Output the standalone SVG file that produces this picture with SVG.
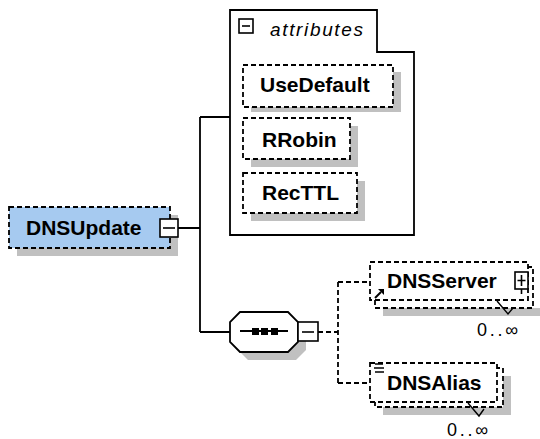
<svg xmlns="http://www.w3.org/2000/svg" width="540" height="439" viewBox="0 0 540 439">
<style>
.shadow{fill:#c0c0c0;stroke:none}
.solid{fill:none;stroke:#000;stroke-width:1.8}
.dash{fill:none;stroke:#000;stroke-width:1.8;stroke-dasharray:5 3}
.box{fill:#fff;stroke:#000;stroke-width:1.8;stroke-dasharray:5 3}
.icon{fill:#fff;stroke:#000;stroke-width:1.6}
.name{font-family:"Liberation Sans",Arial,sans-serif;font-weight:bold;font-size:21px;fill:#000}
.card{font-family:"Liberation Sans",Arial,sans-serif;font-size:18px;fill:#000}
</style>
<rect width="540" height="439" fill="#fff"/>
<g id="connectors">
<path class="solid" d="M178,228 H200 M200,117 V332 M200,117 H230 M200,332 H230"/>
<path class="dash" d="M318,332 H338 M338,282 V383 M338,282 H370 M338,383 H370"/>
</g>
<g id="DNSUpdate">
<rect class="shadow" x="17" y="215" width="161" height="41"/>
<rect x="9" y="207" width="161" height="41" fill="#a6caf0" stroke="#000" stroke-width="1.8" stroke-dasharray="5 3"/>
<text class="name" x="26" y="235">DNSUpdate</text>
<rect class="icon" x="160" y="219" width="18" height="18"/>
<line x1="163" y1="228" x2="175" y2="228" stroke="#000" stroke-width="1.6"/>
</g>
<g id="attributes">
<path d="M230,10 H377 V52 H414 V235 H230 Z" fill="#fff" stroke="#000" stroke-width="1.8"/>
<rect class="icon" x="239" y="19" width="14" height="14"/>
<line x1="242" y1="26" x2="250" y2="26" stroke="#000" stroke-width="1.6"/>
<text x="270" y="36" font-family="'Liberation Sans',Arial,sans-serif" font-style="italic" font-size="19" textLength="93" lengthAdjust="spacing">attributes</text>
</g>
<g id="UseDefault">
<rect class="shadow" x="251" y="72" width="150" height="40"/>
<rect class="box" x="243" y="65" width="150" height="42"/>
<text class="name" x="260" y="92">UseDefault</text>
</g>
<g id="RRobin">
<rect class="shadow" x="251" y="126" width="107" height="41"/>
<rect class="box" x="243" y="118" width="107" height="41"/>
<text class="name" x="262" y="147">RRobin</text>
</g>
<g id="RecTTL">
<rect class="shadow" x="251" y="181" width="114" height="40"/>
<rect class="box" x="243" y="173" width="114" height="40"/>
<text class="name" x="262" y="200">RecTTL</text>
</g>
<g id="sequence">
<polygon class="shadow" points="248,320 296,320 306,330 306,350 296,360 248,360 238,350 238,330"/>
<polygon points="240,312 288,312 298,322 298,342 288,352 240,352 230,342 230,322" fill="#fff" stroke="#000" stroke-width="1.8"/>
<line x1="240" y1="331" x2="288" y2="331" stroke="#000" stroke-width="1.8"/>
<rect x="252" y="328" width="7" height="7" fill="#000"/>
<rect x="261" y="328" width="7" height="7" fill="#000"/>
<rect x="271" y="328" width="7" height="7" fill="#000"/>
<rect class="icon" x="298" y="322" width="20" height="19"/>
<line x1="302" y1="332" x2="314" y2="332" stroke="#000" stroke-width="1.6"/>
</g>
<g id="DNSServer">
<rect class="shadow" x="383" y="308" width="158" height="8"/>
<rect class="box" x="375" y="267" width="158" height="41"/>
<rect class="box" x="370" y="262" width="158" height="38"/>
<text class="name" x="387" y="288">DNSServer</text>
<rect class="icon" x="515" y="272" width="13" height="17"/>
<path d="M517.5,280.5 H525.5 M521.5,275 V286 M521.5,289 V294" stroke="#000" stroke-width="1.6" fill="none"/>
<path d="M375,298 L381,292" stroke="#000" stroke-width="2"/>
<polygon points="384,289 384,295 378,289" fill="#000"/>
<polyline points="497,301 508,314 513,308" fill="none" stroke="#000" stroke-width="1.4"/>
<text class="card" x="477" y="336" textLength="41" lengthAdjust="spacing">0..∞</text>
</g>
<g id="DNSAlias">
<rect class="shadow" x="383" y="376" width="128" height="39"/>
<rect class="box" x="375" y="368" width="128" height="39"/>
<rect class="box" x="370" y="363" width="127" height="39"/>
<text class="name" x="387" y="390">DNSAlias</text>
<path d="M375,364 H383 M374,368 H384 M375,372 H384" stroke="#000" stroke-width="1.3" fill="none"/>
<polyline points="468,403 479,416 484,409" fill="none" stroke="#000" stroke-width="1.4"/>
<text class="card" x="447" y="436" textLength="41" lengthAdjust="spacing">0..∞</text>
</g>
</svg>
